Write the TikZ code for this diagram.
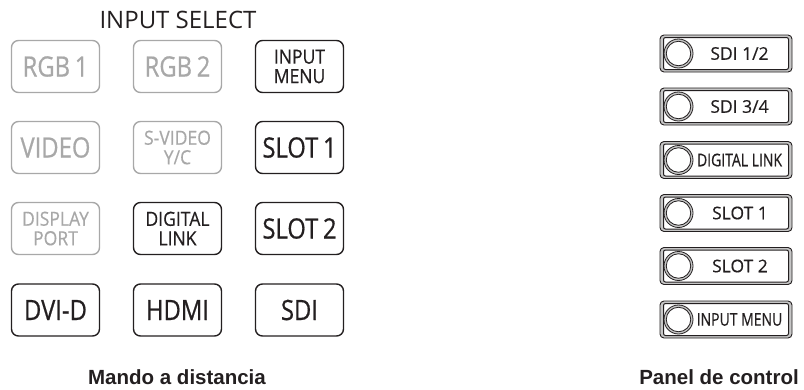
\documentclass[tikz,border=0pt]{standalone}
\usepackage{fontspec}
\setmainfont{Open Sans}
\newfontfamily\btnfont[FakeStretch=0.85,FakeBold=0.6]{Open Sans}
\newfontfamily\twofont[FakeStretch=0.9,FakeBold=0.5]{Open Sans}
\newfontfamily\pnlfont[FakeBold=0.4]{Open Sans}
\newfontfamily\pnlcond[FakeStretch=0.8,FakeBold=0.4]{Open Sans}
\newfontfamily\capfont{Liberation Sans}
\definecolor{offgray}{HTML}{A8A8A8}
\definecolor{ink}{HTML}{231F20}
\tikzset{
  rbtn/.style={draw=ink, text=ink, rounded corners=7pt, line width=1.4pt,
    minimum width=88pt, minimum height=52pt, inner sep=0pt, align=center,
    font=\btnfont\fontsize{28}{30}\selectfont},
  rtwo/.style={rbtn, font=\twofont\fontsize{19.5}{19.5}\selectfont},
  roff/.style={draw=offgray, text=offgray},
  pbtn/.style={draw=ink, fill=gray!45, rounded corners=4pt, line width=0.9pt,
    minimum width=132pt, minimum height=37pt, inner sep=0pt},
  pinner/.style={draw=ink, fill=white, rounded corners=2pt, line width=1pt,
    minimum width=125pt, minimum height=32pt, inner sep=0pt},
  plamp/.style={circle, draw=ink, fill=gray!45, line width=0.8pt, minimum size=29pt, inner sep=0pt},
  plampin/.style={circle, draw=ink, fill=white, line width=0.8pt, minimum size=24.5pt, inner sep=0pt},
  ptext/.style={text=ink, inner sep=0pt, font=\pnlfont\fontsize{17.5}{19}\selectfont},
  pcond/.style={ptext, font=\pnlcond\fontsize{17.5}{19}\selectfont},
  captext/.style={text=ink, inner sep=0pt, font=\capfont\bfseries\fontsize{20.5}{22}\selectfont},
}
\begin{document}
\begin{tikzpicture}[x=1pt,y=-1pt]
\useasboundingbox (0,0) rectangle (804,389);
% Remote control
\node[text=ink, inner sep=0pt, font=\fontsize{24}{26}\selectfont] (title) at (178,19.5) {INPUT SELECT};
\node[rbtn, roff] (rgb1) at (55.5,66.5) {RGB\,1};
\node[rbtn, roff] (rgb2) at (177.5,66.5) {RGB\,2};
\node[rtwo] (inmenu) at (299.5,66.5) {INPUT\\MENU};
\node[rbtn, roff] (video) at (55.5,147.5) {VIDEO};
\node[rtwo, roff] (svideo) at (177.5,147.5) {S-VIDEO\\Y/C};
\node[rbtn] (slot1) at (299.5,147.5) {SLOT\,1};
\node[rtwo, roff] (dport) at (55.5,228.5) {DISPLAY\\PORT};
\node[rtwo] (dlink) at (177.5,228.5) {DIGITAL\\LINK};
\node[rbtn] (slot2) at (299.5,228.5) {SLOT\,2};
\node[rbtn] (dvid) at (55.5,310) {DVI-D};
\node[rbtn] (hdmi) at (177.5,310) {HDMI};
\node[rbtn] (sdi) at (299.5,310) {SDI};
\node[captext] (cap1) at (177,377) {Mando a distancia};
% Control panel
\foreach \n/\y/\t/\s/\tx in {p1/53.5/SDI 1\slash 2/ptext/739.5, p2/106.5/SDI 3\slash 4/ptext/739.5,
    p3/160/DIGITAL LINK/pcond/739.5, p4/213/SLOT 1/ptext/740, p5/266/SLOT 2/ptext/740,
    p6/319.5/INPUT MENU/pcond/739.5}{
  \node[pbtn] (\n) at (726,\y) {};
  \node[pinner] (\n in) at (726,\y) {};
  \node[plamp] (\n lamp) at (678.5,\y) {};
  \node[plampin] (\n lampin) at (678.5,\y) {};
  \node[\s] (\n txt) at (\tx,\y) {\t};
}
\node[captext] (cap2) at (719,377) {Panel de control};
\end{tikzpicture}
\end{document}
